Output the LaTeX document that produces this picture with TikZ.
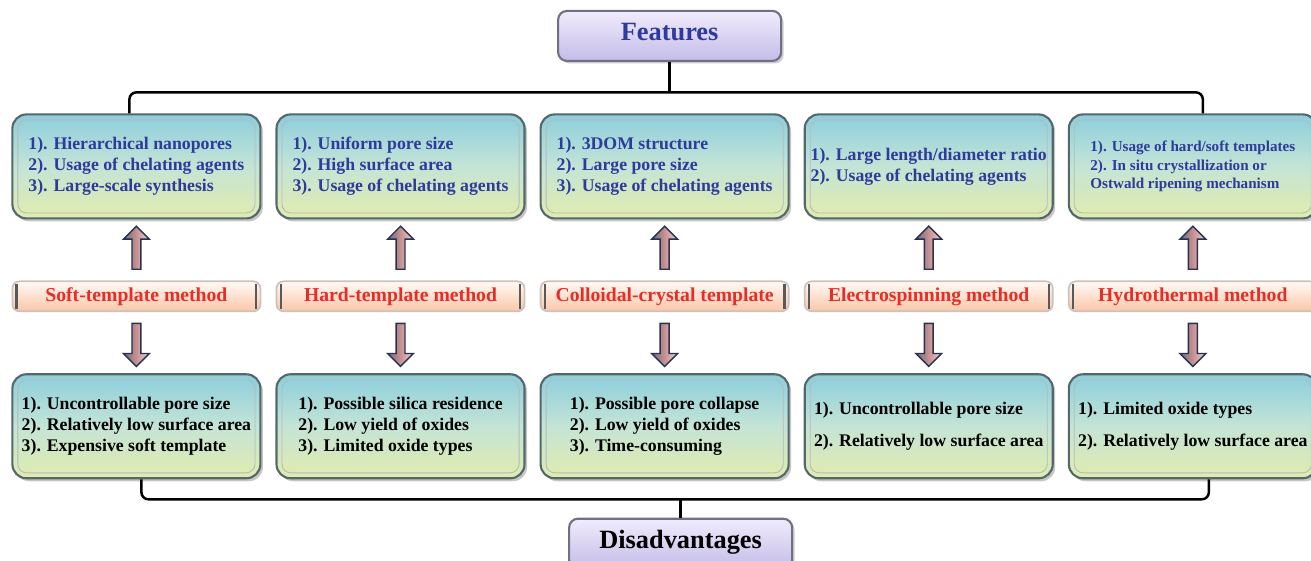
\documentclass[tikz,border=0pt]{standalone}
\usepackage{fontspec}
\setmainfont{Liberation Serif}
\usetikzlibrary{positioning,calc,shadows,shapes.arrows}

\definecolor{boxtop}{RGB}{140,206,220}
\definecolor{boxmid}{RGB}{196,228,214}
\definecolor{boxbot}{RGB}{226,236,172}
\definecolor{boxline}{RGB}{84,104,108}
\definecolor{titletop}{RGB}{240,236,252}
\definecolor{titlebot}{RGB}{196,188,232}
\definecolor{titleline}{RGB}{112,112,132}
\definecolor{methtop}{RGB}{255,250,246}
\definecolor{methbot}{RGB}{250,198,166}
\definecolor{methline}{RGB}{205,195,190}
\definecolor{featblue}{RGB}{46,58,156}
\definecolor{methred}{RGB}{232,45,40}
\definecolor{arrline}{RGB}{40,50,80}
\definecolor{arrleft}{RGB}{105,108,130}
\definecolor{arrmid}{RGB}{200,145,145}
\definecolor{arrright}{RGB}{236,210,210}

\tikzstyle{infobox}=[rectangle,rounded corners=8pt,minimum width=4.96cm,minimum height=2.08cm,inner sep=2pt,align=left,draw=boxline,line width=1.2pt,top color=boxtop,bottom color=boxbot,middle color=boxmid,drop shadow={opacity=0.45,shadow xshift=0.05cm,shadow yshift=-0.06cm},font=\fontsize{10.1}{12}\selectfont\bfseries]
\tikzstyle{goodbox}=[infobox,text=featblue]
\tikzstyle{badbox}=[infobox,text=black]
\tikzstyle{method}=[rectangle,rounded corners=4pt,minimum width=4.96cm,minimum height=0.6cm,inner sep=1pt,text height=1.6ex,text depth=0.4ex,draw=methline,line width=1pt,top color=methtop,bottom color=methbot,text=methred,font=\fontsize{11.2}{13}\selectfont\bfseries]
\tikzstyle{title}=[rectangle,rounded corners=5pt,minimum width=4.46cm,minimum height=1cm,text height=1.6ex,text depth=0.4ex,draw=titleline,line width=1.2pt,top color=titletop,bottom color=titlebot,drop shadow={opacity=0.4,shadow xshift=0.05cm,shadow yshift=-0.05cm},font=\fontsize{15}{18}\selectfont\bfseries]
\tikzstyle{innerframe}=[draw=boxline!45,line width=0.5pt,rounded corners=5pt]
\tikzstyle{methedge}=[draw=gray!70!black,line width=1.2pt]
\tikzstyle{brace}=[line width=1.4pt,rounded corners=4pt]
\tikzstyle{blockarrow}=[single arrow,minimum height=0.86cm,minimum width=0.5cm,single arrow head extend=0.17cm,inner sep=0.075cm,draw=arrline,line width=0.8pt,left color=arrleft,right color=arrright,middle color=arrmid]

\begin{document}
\begin{tikzpicture}
  \useasboundingbox (0,0) rectangle (26.22,11.2);
  \matrix (grid) [matrix anchor=north west,inner sep=0pt,row sep=1.22cm,column sep=0.28cm] at (0.22,8.94) {
    \node (ft1) [goodbox] {1). Hierarchical nanopores\\2). Usage of chelating agents\\3). Large-scale synthesis}; &
    \node (ft2) [goodbox] {1). Uniform pore size\\2). High surface area\\3). Usage of chelating agents}; &
    \node (ft3) [goodbox] {1). 3DOM structure\\2). Large pore size\\3). Usage of chelating agents}; &
    \node (ft4) [goodbox] {1). Large length/diameter ratio\\2). Usage of chelating agents}; &
    \node (ft5) [goodbox,font=\fontsize{8.6}{10.4}\selectfont\bfseries] {1). Usage of hard/soft templates\\2). In situ crystallization or\\Ostwald ripening mechanism};
    \\
    \node (m1) [method] {Soft-template method}; &
    \node (m2) [method] {Hard-template method}; &
    \node (m3) [method] {Colloidal-crystal template}; &
    \node (m4) [method] {Electrospinning method}; &
    \node (m5) [method] {Hydrothermal method};
    \\
    \node (dis1) [badbox] {1). Uncontrollable pore size\\2). Relatively low surface area\\3). Expensive soft template}; &
    \node (dis2) [badbox] {1). Possible silica residence\\2). Low yield of oxides\\3). Limited oxide types}; &
    \node (dis3) [badbox] {1). Possible pore collapse\\2). Low yield of oxides\\3). Time-consuming}; &
    \node (dis4) [badbox] {1). Uncontrollable pore size\\[6pt]2). Relatively low surface area}; &
    \node (dis5) [badbox] {1). Limited oxide types\\[6pt]2). Relatively low surface area};
    \\
  };

  \node (features) [title,text=featblue,above=1.02cm of grid.north,xshift=0.1cm] {Features};
  \node (disadv) [title,text=black,below=0.76cm of grid.south,xshift=0.32cm] {Disadvantages};

  % frames inside the boxes
  \foreach \n in {ft1,ft2,ft3,ft4,ft5,dis1,dis2,dis3,dis4,dis5}
    \draw[innerframe] ([shift={(0.13,-0.13)}]\n.north west) rectangle ([shift={(-0.13,0.13)}]\n.south east);
  \foreach \n in {m1,m2,m3,m4,m5} {
    \draw[methedge] ([shift={(0.1,-0.07)}]\n.north west) -- ([shift={(0.1,0.07)}]\n.south west);
    \draw[methedge] ([shift={(-0.1,-0.07)}]\n.north east) -- ([shift={(-0.1,0.07)}]\n.south east);
  }

  % arrows method -> features / disadvantages
  \foreach \i in {1,...,5} {
    \node[blockarrow,shape border rotate=90] at ($(m\i.north)!0.5!(ft\i.south)$) {};
    \node[blockarrow,shape border rotate=270] at ($(m\i.south)!0.5!(dis\i.north)$) {};
  }

  % braces
  \coordinate (topbar) at ($(ft1.north)+(-0.14,0.42)$);
  \coordinate (botbar) at ($(dis1.south)+(0.1,-0.4)$);
  \draw[brace] (topbar |- ft1.north) -- (topbar) -| ([xshift=0.2cm]ft5.north);
  \draw[brace] (features.south) -- (features.south |- topbar);
  \draw[brace] (botbar |- dis1.south) -- (botbar) -| ([xshift=0.32cm]dis5.south);
  \draw[brace] (disadv.north) -- (disadv.north |- botbar);
\end{tikzpicture}
\end{document}
